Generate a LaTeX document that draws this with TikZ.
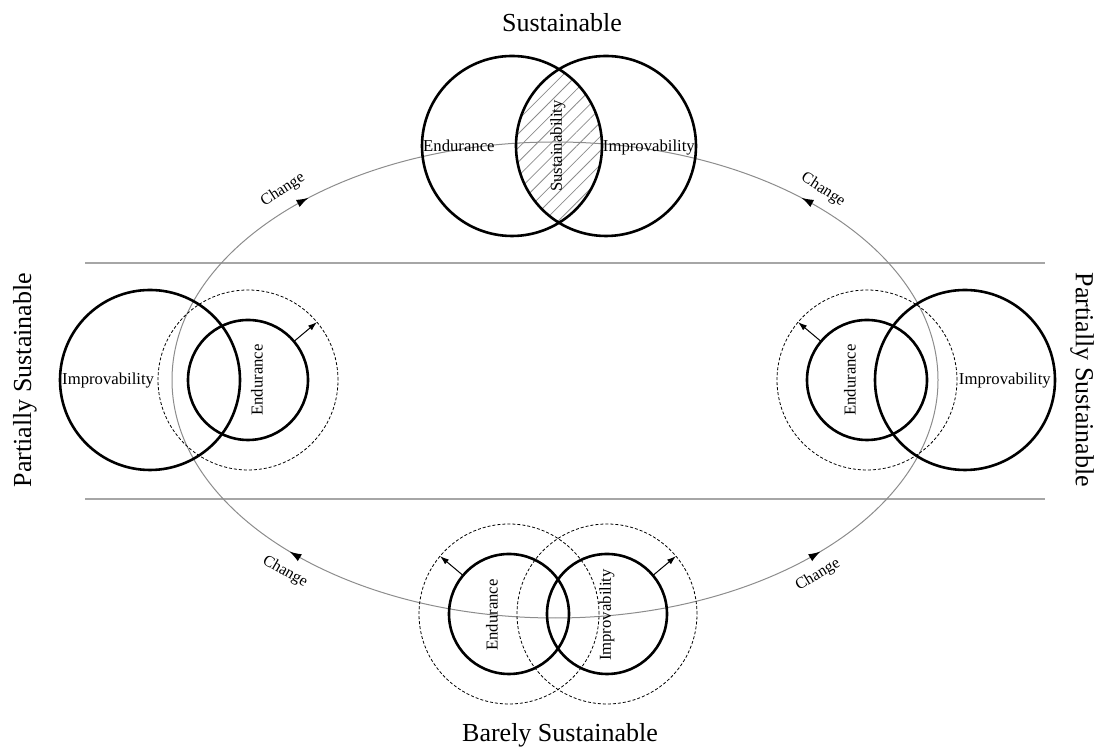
\documentclass[tikz,border=0pt]{standalone}
\usepackage{fontspec}
\setmainfont{Liberation Serif}
\usetikzlibrary{arrows.meta,decorations.markings,patterns.meta}

\begin{document}
\begin{tikzpicture}[
    x=1pt, y=1pt,
    ring/.style={draw, circle, inner sep=0pt, outer sep=0pt},
    bigring/.style={ring, line width=2.6pt, minimum size=180pt},
    smallring/.style={ring, line width=2.6pt, minimum size=120pt},
    reachring/.style={ring, line width=0.8pt, dash pattern=on 3pt off 2pt, minimum size=180pt},
    lbl/.style={inner sep=0pt, font=\fontsize{16.7}{20}\selectfont},
    phase/.style={inner sep=0pt, font=\fontsize{26}{30}\selectfont},
    chg/.style={inner sep=0pt, font=\fontsize{16}{18}\selectfont},
    widen/.style={-{Latex[length=9pt,width=6pt]}, line width=1pt},
    flowtip/.style={decoration={markings,
        mark=at position 0.28 with {\arrow[black]{Latex[length=12pt,width=8pt]}},
        mark=at position 0.742 with {\arrow[black]{Latex[length=12pt,width=8pt]}}},
        postaction={decorate}},
    cycleline/.style={draw=black!45, line width=1pt, flowtip},
    band/.style={draw=black!35, line width=1.3pt}
]
    \useasboundingbox (0,0) rectangle (1104,751);

    \draw[band] (85,488) -- (1045,488);
    \draw[band] (85,252) -- (1045,252);

    \coordinate (cyc) at (555,371);
    \draw[cycleline] (cyc) ++(270:383 and 238) arc[start angle=270, end angle=90, x radius=383, y radius=238];
    \draw[cycleline] (cyc) ++(-90:383 and 238) arc[start angle=-90, end angle=90, x radius=383, y radius=238];

    \begin{scope}
        \clip (512,605) circle[radius=90];
        \path[pattern={Lines[angle=45,distance=10pt,line width=0.8pt]}, pattern color=black!45] (606,605) circle[radius=90];
    \end{scope}
    \node[bigring] (endT) at (512,605) {};
    \node[bigring] (impT) at (606,605) {};
    \node[lbl, anchor=base west] at (423,599) {Endurance};
    \node[lbl, anchor=base east] at (695,599) {Improvability};
    \node[lbl, rotate=90] at (558,605) {Sustainability};
    \node[phase, anchor=base] (susT) at (562,719) {Sustainable};

    \node[bigring] (impL) at (150,371) {};
    \node[smallring] (endL) at (248,371) {};
    \node[reachring] (reachL) at (248,371) {};
    \draw[widen] (endL.40) -- (reachL.40);
    \node[lbl, anchor=base west] at (62,366) {Improvability};
    \node[lbl, rotate=90] at (257,371) {Endurance};
    \node[phase, rotate=90] (partL) at (25,371) {Partially Sustainable};

    \node[bigring] (impR) at (965,371) {};
    \node[smallring] (endR) at (867,371) {};
    \node[reachring] (reachR) at (867,371) {};
    \draw[widen] (endR.140) -- (reachR.140);
    \node[lbl, anchor=base east] at (1051,366) {Improvability};
    \node[lbl, rotate=90] at (850,371) {Endurance};
    \node[phase, rotate=-90] (partR) at (1082,371) {Partially Sustainable};

    \node[smallring] (endB) at (509,137) {};
    \node[reachring] (reachEB) at (509,137) {};
    \node[smallring] (impB) at (607,137) {};
    \node[reachring] (reachIB) at (607,137) {};
    \draw[widen] (endB.140) -- (reachEB.140);
    \draw[widen] (impB.40) -- (reachIB.40);
    \node[lbl, rotate=90] at (492,136) {Endurance};
    \node[lbl, rotate=90] at (607,136) {Improvability};
    \node[phase, anchor=base] (barB) at (560,9) {Barely Sustainable};

    \node[chg, rotate=33] at (283,561) {Change};
    \node[chg, rotate=-33] at (823,561) {Change};
    \node[chg, rotate=-30] at (285,179) {Change};
    \node[chg, rotate=31] at (818,176) {Change};
\end{tikzpicture}
\end{document}
